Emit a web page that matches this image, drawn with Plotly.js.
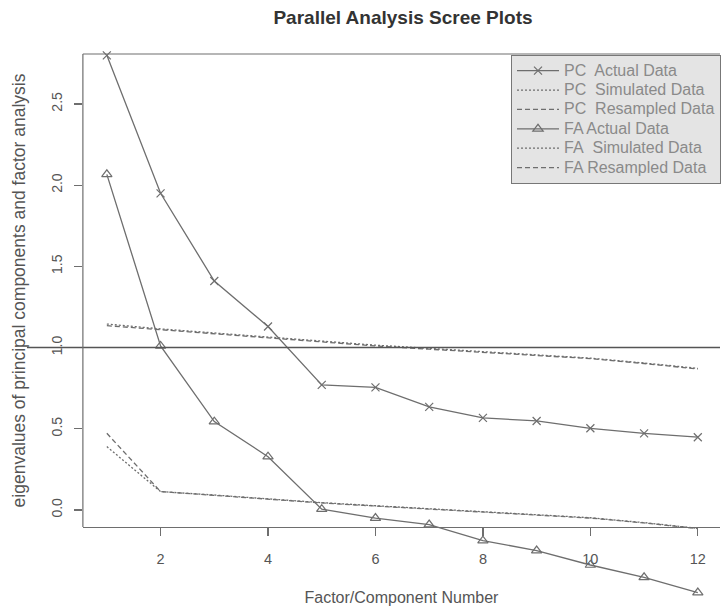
<!DOCTYPE html>
<html>
<head>
<meta charset="utf-8">
<script src="https://cdn.plot.ly/plotly-3.0.1.min.js"></script>
<style>html,body{margin:0;padding:0;background:#fff;}#chart{width:721px;height:606px;}</style>
</head>
<body>
<div id="chart"></div>
<script>
// ---- data ----
const factorNumber = [1, 2, 3, 4, 5, 6, 7, 8, 9, 10, 11, 12];
const pcActual   = [2.80, 1.95, 1.41, 1.13, 0.77, 0.755, 0.635, 0.567, 0.548, 0.503, 0.472, 0.448];
const pcSimulated = [1.145, 1.115, 1.09, 1.065, 1.04, 1.015, 0.995, 0.975, 0.955, 0.935, 0.905, 0.872];
const pcResampled = [1.135, 1.11, 1.085, 1.06, 1.035, 1.01, 0.99, 0.972, 0.952, 0.932, 0.902, 0.868];
const faActual   = [2.067, 1.01, 0.544, 0.328, 0.005, -0.05, -0.09, -0.189, -0.25, -0.339, -0.415, -0.509];
const faSimulated = [0.39, 0.113, 0.092, 0.068, 0.045, 0.026, 0.007, -0.012, -0.03, -0.048, -0.078, -0.113];
const faResampled = [0.472, 0.113, 0.09, 0.066, 0.043, 0.024, 0.005, -0.014, -0.033, -0.05, -0.08, -0.115];
const xTicks = [2, 4, 6, 8, 10, 12];
const yTicks = [0, 0.5, 1, 1.5, 2, 2.5];
const yTickText = ['0.0', '0.5', '1.0', '1.5', '2.0', '2.5'];
const seriesNames = ['PC\u00a0 Actual Data', 'PC\u00a0 Simulated Data', 'PC\u00a0 Resampled Data',
                     'FA Actual Data', 'FA\u00a0 Simulated Data', 'FA Resampled Data'];

const W = 721, H = 606;
const lineCol = '#6e6e6e';
const font = 'Liberation Sans, Arial, sans-serif';

// pixel geometry of the box
const boxL = 83, boxT = 54, boxB = 527;
const yBot = -0.105, yTop = 2.808;
const k = (boxB - boxT) / (yTop - yBot);
const y0 = boxB + yBot * k;            // pixel of value 0
const xRange = [0.554, 12.413];

function tr(y, name, dash, symbol, mode) {
  return {
    x: factorNumber, y: y, type: 'scatter', mode: mode,
    name: '<span style="font-size:16px">' + name + '</span>',
    xaxis: 'x2', yaxis: 'y2',
    line: {color: lineCol, width: 1.3, dash: dash},
    marker: {symbol: symbol, size: symbol === 'x-thin-open' ? 8 : 9,
             color: lineCol, line: {color: lineCol, width: 1.2}}
  };
}

const data = [
  tr(pcActual, seriesNames[0], 'solid', 'x-thin-open', 'lines+markers'),
  tr(pcSimulated, seriesNames[1], '2px,2px', 'circle', 'lines'),
  tr(pcResampled, seriesNames[2], '5px,3px', 'circle', 'lines'),
  tr(faActual, seriesNames[3], 'solid', 'triangle-up-open', 'lines+markers'),
  tr(faSimulated, seriesNames[4], '2px,2px', 'circle', 'lines'),
  tr(faResampled, seriesNames[5], '5px,3px', 'circle', 'lines')
];

const layout = {
  width: W, height: H,
  margin: {l: 0, r: 0, t: 0, b: 0},
  paper_bgcolor: '#fff', plot_bgcolor: 'rgba(0,0,0,0)',
  showlegend: true,
  font: {family: font, color: '#555', size: 14},
  title: {text: '<b>Parallel Analysis Scree Plots</b>', font: {family: font, size: 19, color: '#333'},
          x: 403 / W, xanchor: 'center', y: 1 - 17 / H, yanchor: 'middle'},
  xaxis: {
    domain: [boxL / W, 1], range: xRange, anchor: 'y',
    showgrid: false, zeroline: false,
    showline: true, linecolor: lineCol, linewidth: 1.2,
    ticks: 'outside', ticklen: 8, tickwidth: 1.2, tickcolor: lineCol,
    tickvals: xTicks, ticklabelstandoff: 10,
    tickfont: {size: 14.5, color: '#555'},
    title: {text: 'Factor/Component Number', font: {size: 16, color: '#555'}, standoff: 28}
  },
  yaxis: {
    domain: [(H - boxB) / H, (H - boxT) / H], range: [yBot, yTop], anchor: 'x',
    showgrid: false, zeroline: false,
    showline: false,
    ticks: 'outside', ticklen: 8, tickwidth: 1.2, tickcolor: lineCol,
    tickvals: yTicks, ticktext: yTickText, tickangle: -90, ticklabelstandoff: 6,
    tickfont: {size: 14, color: '#555'},
    title: {text: 'eigenvalues of principal components and factor analysis',
            font: {size: 17.5, color: '#555'}, standoff: 19}
  },
  xaxis2: {domain: [boxL / W, 1], range: xRange, anchor: 'y2', visible: false, fixedrange: true},
  yaxis2: {domain: [0, 1], range: [(y0 - H) / k, y0 / k], anchor: 'x2', visible: false, fixedrange: true},
  shapes: [
    {type: 'line', xref: 'paper', yref: 'y', x0: 27 / W, x1: 1, y0: 1, y1: 1,
     line: {color: '#555', width: 1.5}},
    {type: 'line', xref: 'paper', yref: 'paper', x0: boxL / W, x1: 1, y0: 1 - boxT / H, y1: 1 - boxT / H,
     line: {color: lineCol, width: 1.2}},
    {type: 'line', xref: 'paper', yref: 'paper', x0: boxL / W, x1: boxL / W, y0: 1 - boxT / H, y1: 1 - boxB / H,
     line: {color: lineCol, width: 1.2}}
  ],
  legend: {
    x: 512 / W, y: 1 - 55 / H, xanchor: 'left', yanchor: 'top',
    bgcolor: '#e4e4e4', bordercolor: '#777', borderwidth: 1,
    font: {family: font, size: 12.6, color: '#8a8a8a'},
    tracegroupgap: 0, itemwidth: 42
  }
};

Plotly.newPlot('chart', data, layout, {displayModeBar: false, staticPlot: true});
</script>
</body>
</html>
